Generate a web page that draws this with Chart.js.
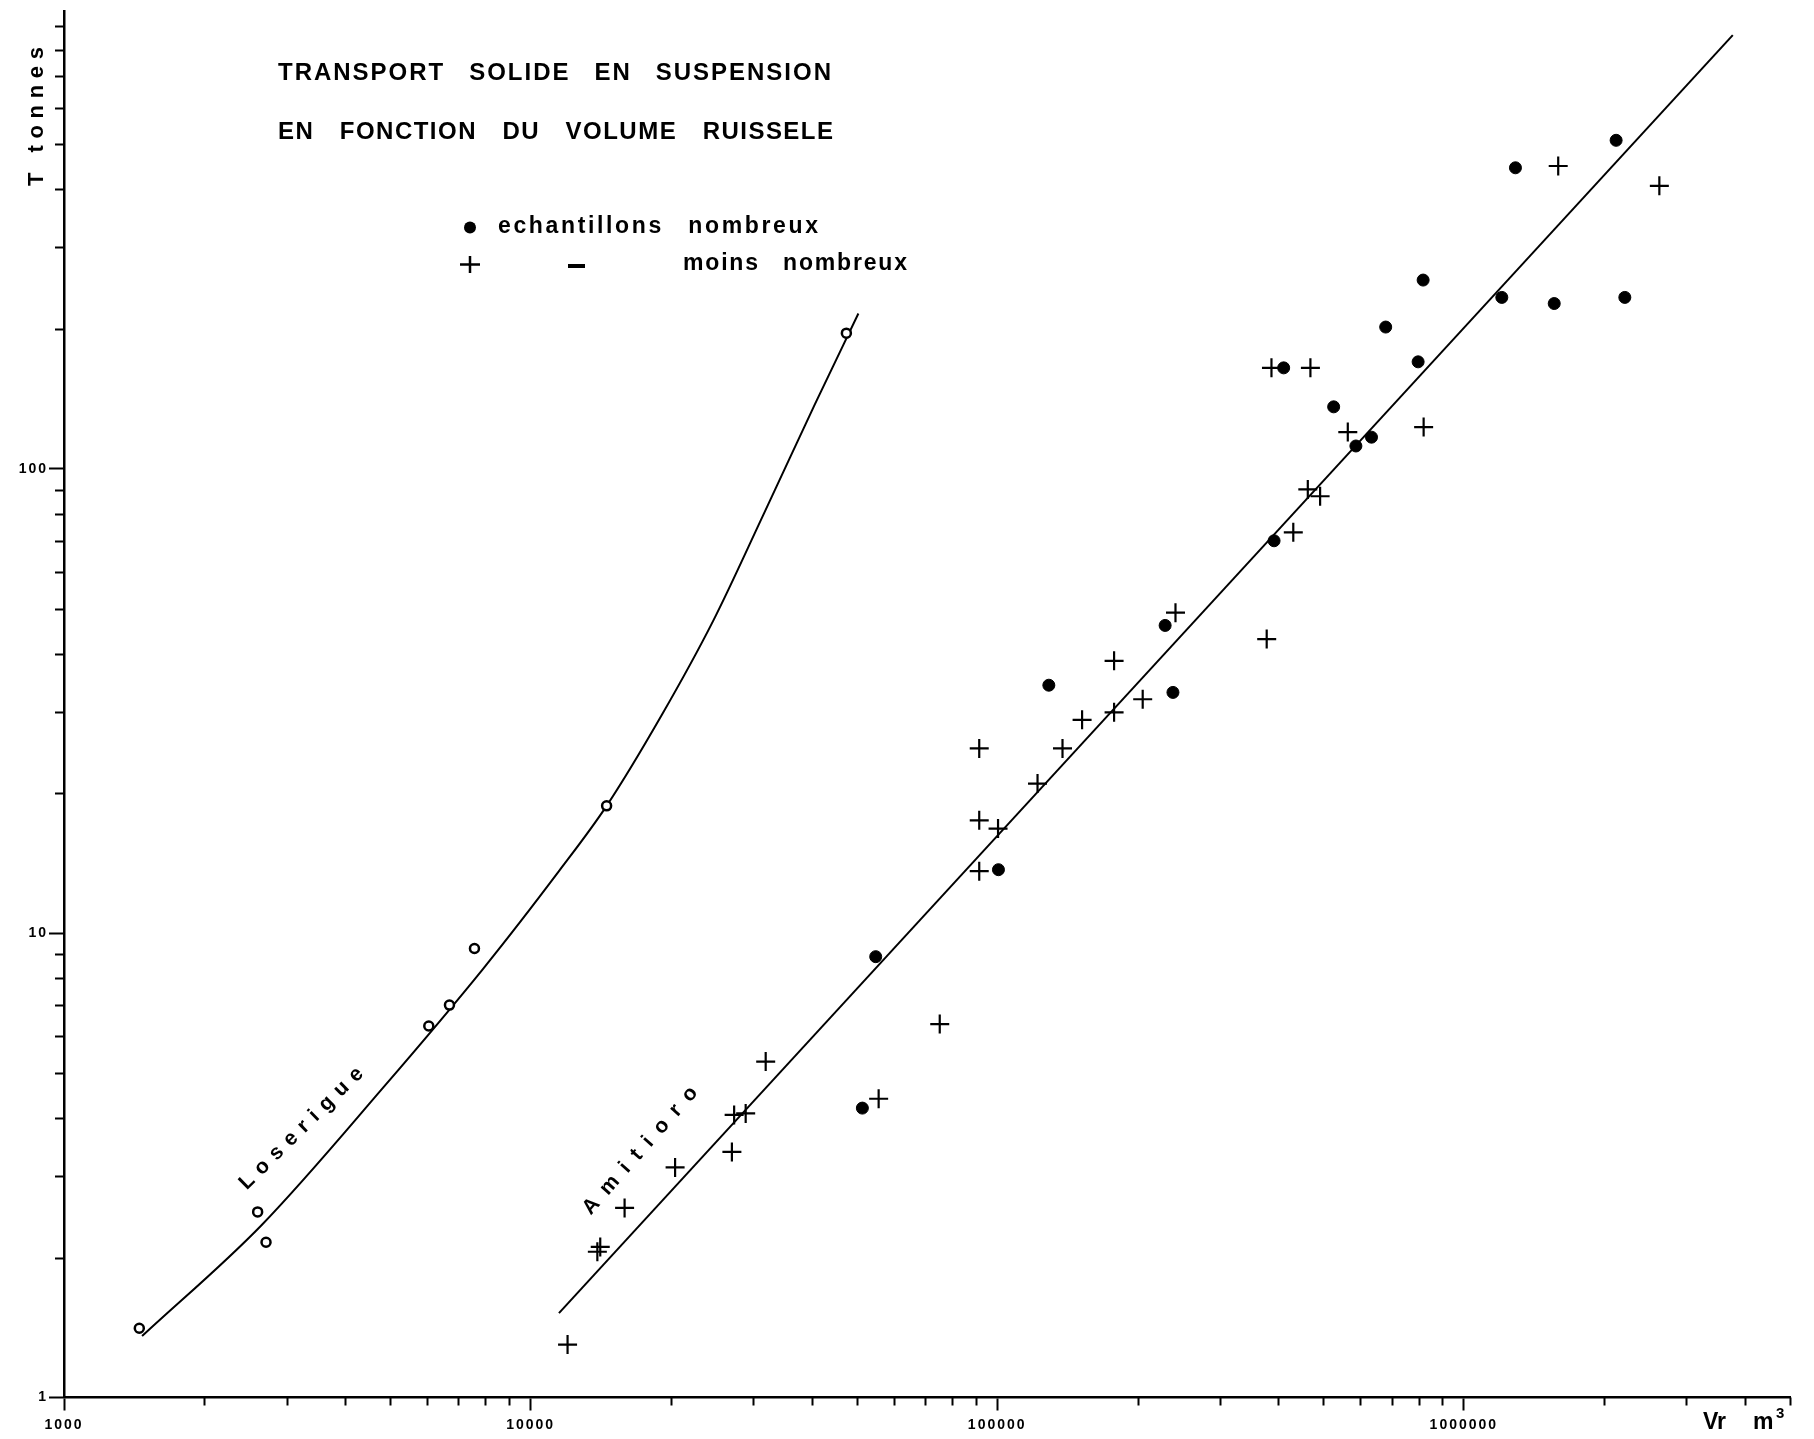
<!DOCTYPE html>
<html>
<head>
<meta charset="utf-8">
<script src="https://cdn.jsdelivr.net/npm/chart.js@4.4.1/dist/chart.umd.min.js"></script>
<style>
  html, body { margin: 0; padding: 0; background: #fff; }
  #c { display: block; }
</style>
</head>
<body>
<canvas id="c" width="1814" height="1439"></canvas>
<script>
// ---------------- DATA ----------------
// Loserigue: measured points (open circles)
const loserigueVr = [1450, 2600, 2710, 6050, 6700, 7580, 14550, 47500];
const loserigueT  = [1.41, 2.51, 2.16, 6.31, 7.0, 9.27, 18.8, 196];
// Loserigue: hand-drawn curve
const loserigueCurveVr = [1470, 2650, 4840, 7910, 11500, 14550, 19100, 24600, 31600, 40700, 50400];
const loserigueCurveT  = [1.356, 2.35, 4.66, 8.38, 13.6, 18.8, 29.5, 47, 80, 138, 216];
// Amitioro: fitted straight line (end points)
const amitioroLineVr = [11500, 3770000];
const amitioroLineT  = [1.52, 859];
// Amitioro: "echantillons nombreux" (filled dots)
const nombreuxVr = [2120000, 1290000, 818000, 680000, 1206000, 1562000, 2213000, 798000, 411000, 526000, 634000, 587000, 392000, 229000, 129000, 238000, 100600, 54900, 51400];
const nombreuxT  = [510, 445, 255, 202, 234, 227, 234, 170, 165, 136, 117, 112, 70, 46, 34.2, 33, 13.7, 8.9, 4.2];
// Amitioro: "echantillons moins nombreux" (crosses)
const moinsVr = [1593000, 2624000, 387000, 469000, 564000, 820000, 463000, 492000, 431000, 241000, 378000, 178000, 205000, 178000, 152000, 91500, 138000, 122000, 91500, 100400, 91500, 75300, 55700, 31900, 27300, 28900, 27000, 20400, 15900, 14100, 13900, 12000];
const moinsT  = [449, 407, 165, 165, 120, 123, 90.3, 87.3, 73, 49, 43, 38.6, 31.9, 29.9, 28.8, 25, 25, 21, 17.5, 16.8, 13.6, 6.37, 4.4, 5.29, 4.06, 4.09, 3.38, 3.13, 2.56, 2.11, 2.06, 1.30];

// Axes
const xMin = 1000, xMax = 5000000;
const yMin = 1, yMax = 965;
const xMajor = [1000, 10000, 100000, 1000000];
const xTickLabels = ['1000', '10000', '100000', '1000000'];
const yMajor = [1, 10, 100];
const yTickLabels = ['1', '10', '100'];
const minorMultipliers = [1, 2, 3, 4, 5, 6, 7, 8, 9];

// Texts
const titleLine1 = ['TRANSPORT', 'SOLIDE', 'EN', 'SUSPENSION'];
const titleLine2 = ['EN', 'FONCTION', 'DU', 'VOLUME', 'RUISSELE'];
const legendRow1 = ['echantillons', 'nombreux'];
const legendRow2 = ['moins', 'nombreux'];
const yAxisTitle = ['T', 'tonnes'];
const xAxisTitle = 'Vr';
const xAxisUnit = 'm';
const xAxisUnitExp = '3';
const curveLabels = [
  { text: 'Loserigue', vr: 3228, t: 3.796, angle: -44.6, length: 165 },
  { text: 'Amitioro',  vr: 17180, t: 3.401, angle: -48.6, length: 163 }
];

// ---------------- HELPERS ----------------
const FONT = '"Liberation Sans", Arial, Helvetica, sans-serif';
function toXY(xs, ys) { return xs.map((v, i) => ({ x: v, y: ys[i] })); }
function tickValues(majors, max) {
  const out = [];
  majors.forEach(d => minorMultipliers.forEach(m => { const v = m * d; if (v <= max * 1.0000001) out.push(v); }));
  const last = majors[majors.length - 1] * 10;
  minorMultipliers.forEach(m => { const v = m * last; if (v <= max * 1.0000001) out.push(v); });
  return out;
}
function majorIndex(v, majors) { return majors.findIndex(m => Math.abs(m - v) / m < 1e-9); }

function drawWords(ctx, words, x0, x1, gap, font) {
  ctx.font = font;
  ctx.letterSpacing = '0px';
  const widths = words.map(w => ctx.measureText(w).width);
  const total = widths.reduce((a, b) => a + b, 0);
  const inner = words.reduce((n, w) => n + w.length - 1, 0);
  const s = (x1 - x0 - total - gap * (words.length - 1)) / Math.max(inner, 1);
  ctx.letterSpacing = s + 'px';
  let x = x0;
  words.forEach((w, i) => {
    ctx.fillText(w, x, 0);
    x += widths[i] + s * (w.length - 1) + gap;
  });
  ctx.letterSpacing = '0px';
}

const decorPlugin = {
  id: 'decor',
  beforeDraw(chart) {
    chart.ctx.letterSpacing = '2px';
  },
  afterDraw(chart) {
    const ctx = chart.ctx;
    const xs = chart.scales.x, ys = chart.scales.y;
    ctx.save();
    ctx.letterSpacing = '0px';
    // minor tick marks
    ctx.strokeStyle = '#000';
    ctx.lineWidth = 2;
    ctx.beginPath();
    xs.ticks.forEach(t => {
      if (majorIndex(t.value, xMajor) < 0) {
        const px = Math.round(xs.getPixelForValue(t.value)) + 0.5;
        ctx.moveTo(px, xs.top); ctx.lineTo(px, xs.top + 8);
      }
    });
    ys.ticks.forEach(t => {
      if (majorIndex(t.value, yMajor) < 0) {
        const py = Math.round(ys.getPixelForValue(t.value)) + 0.5;
        ctx.moveTo(ys.right - 9, py); ctx.lineTo(ys.right, py);
      }
    });
    ctx.stroke();

    ctx.fillStyle = '#000';
    ctx.textAlign = 'left';
    ctx.textBaseline = 'alphabetic';

    // Title
    ctx.save(); ctx.translate(0, 80);
    drawWords(ctx, titleLine1, 278, 831, 26, 'bold 24px ' + FONT);
    ctx.restore();
    ctx.save(); ctx.translate(0, 138.5);
    drawWords(ctx, titleLine2, 278, 833, 27, 'bold 24px ' + FONT);
    ctx.restore();

    // Legend
    ctx.beginPath(); ctx.arc(470, 227.5, 6, 0, Math.PI * 2); ctx.fill();
    ctx.save(); ctx.translate(0, 233.3);
    drawWords(ctx, legendRow1, 498, 818, 27, 'bold 23px ' + FONT);
    ctx.restore();
    ctx.lineWidth = 2.5;
    ctx.beginPath();
    ctx.moveTo(460, 264.5); ctx.lineTo(480, 264.5);
    ctx.moveTo(470, 256); ctx.lineTo(470, 273);
    ctx.stroke();
    ctx.fillRect(568, 264, 17, 4);
    ctx.save(); ctx.translate(0, 270);
    drawWords(ctx, legendRow2, 683, 907, 25, 'bold 23px ' + FONT);
    ctx.restore();

    // Y axis title (rotated, reading upwards)
    ctx.save(); ctx.translate(43, 186); ctx.rotate(-Math.PI / 2);
    drawWords(ctx, yAxisTitle, 0, 139, 20, 'bold 22px ' + FONT);
    ctx.restore();

    // X axis title
    ctx.font = 'bold 23px ' + FONT;
    ctx.fillText(xAxisTitle, 1703, 1429);
    ctx.fillText(xAxisUnit, 1753, 1429);
    ctx.font = 'bold 15px ' + FONT;
    ctx.fillText(xAxisUnitExp, 1776, 1418);

    // Curve labels
    curveLabels.forEach(l => {
      const cx = xs.getPixelForValue(l.vr), cy = ys.getPixelForValue(l.t);
      const a = l.angle * Math.PI / 180;
      ctx.save();
      ctx.translate(cx, cy); ctx.rotate(a);
      ctx.textBaseline = 'middle';
      drawWords(ctx, [l.text], -l.length / 2, l.length / 2, 0, 'bold 21px ' + FONT);
      ctx.restore();
    });
    ctx.restore();
  }
};

const xTicks = tickValues(xMajor, xMax);
const yTicks = tickValues(yMajor, yMax);

const tickFont = { family: FONT, size: 14, weight: 'bold' };

new Chart(document.getElementById('c'), {
  type: 'scatter',
  data: {
    datasets: [
      { label: 'Loserigue', data: toXY(loserigueVr, loserigueT), pointStyle: 'circle', pointRadius: 4.5, borderWidth: 2.5, borderColor: '#000', backgroundColor: '#fff', order: 0 },
      { label: 'echantillons nombreux', data: toXY(nombreuxVr, nombreuxT), pointStyle: 'circle', pointRadius: 6, borderWidth: 1, borderColor: '#000', backgroundColor: '#000', order: 1 },
      { label: 'moins nombreux', data: toXY(moinsVr, moinsT), pointStyle: 'cross', pointRadius: 9.5, borderWidth: 2.2, borderColor: '#000', backgroundColor: '#000', order: 2 },
      { label: 'Loserigue courbe', data: toXY(loserigueCurveVr, loserigueCurveT), showLine: true, pointRadius: 0, borderWidth: 2, borderColor: '#000', cubicInterpolationMode: 'monotone', order: 5 },
      { label: 'Amitioro droite', data: toXY(amitioroLineVr, amitioroLineT), showLine: true, pointRadius: 0, borderWidth: 2, borderColor: '#000', order: 6 }
    ]
  },
  options: {
    responsive: false,
    animation: false,
    devicePixelRatio: 1,
    events: [],
    layout: { padding: { top: 9, right: 24, left: 0, bottom: 0 } },
    plugins: { legend: { display: false }, tooltip: { enabled: false }, title: { display: false } },
    scales: {
      x: {
        type: 'logarithmic', position: 'bottom', min: xMin, max: xMax,
        afterBuildTicks: s => { s.ticks = xTicks.map(v => ({ value: v })); },
        afterFit: s => { s.height = 41.5; },
        grid: { display: true, drawOnChartArea: false, drawTicks: true, tickLength: 13, tickWidth: 2,
                tickColor: c => (c.tick && majorIndex(c.tick.value, xMajor) >= 0) ? '#000' : 'rgba(0,0,0,0)' },
        border: { display: true, color: '#000', width: 2.5 },
        ticks: { autoSkip: false, maxRotation: 0, minRotation: 0, padding: 6, color: '#000', font: tickFont,
                 callback: v => { const i = majorIndex(v, xMajor); return i >= 0 ? xTickLabels[i] : ''; } }
      },
      y: {
        type: 'logarithmic', position: 'left', min: yMin, max: yMax,
        afterBuildTicks: s => { s.ticks = yTicks.map(v => ({ value: v })); },
        afterFit: s => { s.width = 64; },
        grid: { display: true, drawOnChartArea: false, drawTicks: true, tickLength: 15, tickWidth: 2,
                tickColor: c => (c.tick && majorIndex(c.tick.value, yMajor) >= 0) ? '#000' : 'rgba(0,0,0,0)' },
        border: { display: true, color: '#000', width: 2.5 },
        ticks: { autoSkip: false, padding: 1, color: '#000', font: tickFont,
                 callback: v => { const i = majorIndex(v, yMajor); return i >= 0 ? yTickLabels[i] : ''; } }
      }
    }
  },
  plugins: [decorPlugin]
});
</script>
</body>
</html>
